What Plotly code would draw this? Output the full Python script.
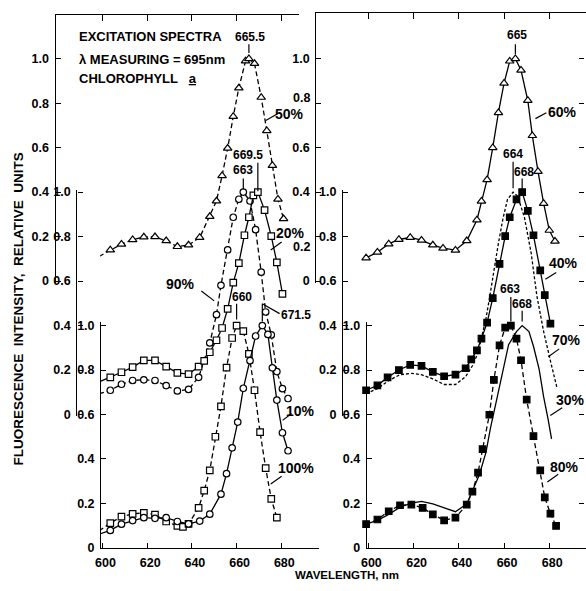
import plotly.graph_objects as go

W, H = 586, 591
FONT = "Liberation Sans"

# ---------------- data: wavelength (nm) and relative fluorescence ----------------
# left panel
wl_50 = [598.5, 603.5, 608.5, 613.5, 618.5, 623.5, 628.5, 633.5, 638.5, 643.5, 648, 651,
         653.5, 656, 658.5, 661, 664, 665.5, 668, 671, 673.5, 676, 678.5, 681]
fl_50 = [0.111, 0.14, 0.166, 0.186, 0.198, 0.199, 0.181, 0.155, 0.162, 0.196, 0.29, 0.36,
         0.474, 0.597, 0.74, 0.868, 0.99, 1.0, 0.978, 0.826, 0.676, 0.52, 0.368, 0.28]

wl_90 = [598.5, 603.5, 608.5, 613.5, 618.5, 623.5, 628.5, 633.5, 638.5, 643, 648, 651, 653,
         656, 658.5, 661, 663, 666, 668.5, 671, 673, 675.5, 678, 680.5, 683]
fl_90 = [0.093, 0.109, 0.136, 0.153, 0.156, 0.153, 0.13, 0.106, 0.113, 0.167, 0.322, 0.449,
         0.581, 0.74, 0.887, 0.968, 1.0, 0.96, 0.831, 0.64, 0.461, 0.358, 0.193, 0.116, 0.072]

wl_20 = [598.5, 603.5, 608.5, 613.5, 618.5, 623.5, 628.5, 633.5, 638.5, 643, 645.5, 648, 651,
         653.5, 656, 658.5, 661, 663.5, 665.5, 667.5, 669.5, 672.5, 675.5, 678, 680.5]
fl_20 = [0.147, 0.167, 0.19, 0.213, 0.243, 0.243, 0.215, 0.187, 0.182, 0.215, 0.241, 0.28,
         0.334, 0.389, 0.475, 0.593, 0.681, 0.806, 0.887, 0.985, 1.0, 0.919, 0.802, 0.684, 0.542]

wl_10 = [598.5, 603.5, 608.5, 613.5, 618.5, 623.5, 628.5, 633.5, 638.5, 643.5, 648, 653, 655.5,
         658, 660.5, 663, 666, 668.5, 671.5, 674, 676, 678, 680.5, 683]
fl_10 = [0.062, 0.079, 0.107, 0.123, 0.136, 0.133, 0.136, 0.119, 0.108, 0.121, 0.152, 0.242,
         0.334, 0.45, 0.566, 0.718, 0.842, 0.953, 1.0, 0.96, 0.81, 0.665, 0.518, 0.437]

wl_100 = [598.5, 603.5, 608.5, 613.5, 618.5, 623.5, 628.5, 633.5, 636, 638.5, 643, 645.5, 648,
          650.5, 653, 655.5, 658, 660, 663, 665.5, 668, 670.5, 673, 675.5, 678]
fl_100 = [0.077, 0.112, 0.141, 0.153, 0.158, 0.15, 0.119, 0.099, 0.095, 0.108, 0.18, 0.258,
          0.349, 0.5, 0.637, 0.811, 0.944, 1.0, 0.975, 0.873, 0.709, 0.521, 0.359, 0.221, 0.136]

# right panel
wl_60 = [599, 604, 609, 613.5, 618.5, 623.5, 628.5, 633, 638.5, 643.5, 648, 650, 652.5, 655,
         657.5, 660, 662.5, 665, 667.5, 670.5, 672.5, 675, 677.5, 680, 682.5]
fl_60 = [0.104, 0.13, 0.167, 0.187, 0.196, 0.184, 0.162, 0.148, 0.139, 0.181, 0.275, 0.359,
         0.456, 0.6, 0.757, 0.89, 0.989, 1.0, 0.948, 0.812, 0.654, 0.493, 0.349, 0.228, 0.179]

wl_40 = [599, 604, 608.5, 613.5, 618.5, 623.5, 628.5, 633.5, 638.5, 643, 645.5, 648, 650,
         652.5, 655, 658, 660.5, 662.5, 665.5, 668, 670.5, 673, 676, 678, 680.5]
fl_40 = [0.109, 0.131, 0.167, 0.2, 0.223, 0.219, 0.192, 0.172, 0.179, 0.208, 0.248, 0.288,
         0.341, 0.413, 0.523, 0.677, 0.802, 0.887, 0.967, 1.0, 0.916, 0.806, 0.648, 0.537, 0.409]

wl_70 = [599, 604, 609, 614, 619, 623.5, 628.5, 633.5, 638.5, 643, 646, 648.5, 650, 652,
         653.5, 655.5, 657.5, 659.5, 661.5, 664, 666, 669, 672, 674.5, 677.5, 680.5, 683.5]
fl_70 = [0.094, 0.116, 0.153, 0.179, 0.185, 0.179, 0.16, 0.135, 0.135, 0.17, 0.219, 0.278,
         0.344, 0.432, 0.52, 0.652, 0.77, 0.88, 0.967, 1.0, 0.982, 0.887, 0.725, 0.534, 0.373,
         0.241, 0.116]

wl_30 = [599, 604, 609, 614, 619, 623.5, 628.5, 633.5, 638.5, 643.5, 646, 649, 652, 654, 657,
         659.5, 662, 665.5, 668, 671, 673, 675.5, 677.5, 679.5, 681]
fl_30 = [0.107, 0.124, 0.151, 0.183, 0.202, 0.209, 0.198, 0.18, 0.163, 0.198, 0.253, 0.327,
         0.43, 0.54, 0.679, 0.804, 0.914, 0.973, 1.0, 0.973, 0.907, 0.804, 0.679, 0.577, 0.49]

wl_80 = [599, 604, 609, 614, 619, 624, 628.5, 633.5, 638.5, 643.5, 646, 648.5, 650.5, 653.5,
         655.5, 658, 660.5, 663, 665.5, 667.5, 670, 673, 676, 678, 680.5, 683]
fl_80 = [0.107, 0.128, 0.165, 0.192, 0.195, 0.18, 0.151, 0.124, 0.136, 0.195, 0.253, 0.339,
         0.444, 0.599, 0.756, 0.911, 0.991, 1.0, 0.941, 0.844, 0.667, 0.503, 0.349, 0.227,
         0.154, 0.099]

X_TICKS = [600, 620, 640, 660, 680]
Y_TICKS = [0, 0.2, 0.4, 0.6, 0.8, 1.0]
Y_TICK_TEXT = ["0", "0.2", "0.4", "0.6", "0.8", "1.0"]
# the top-right scale moves two of its numbers off the tick to clear the curve labels
Y_TICK_TEXT_TR = ["0", "", "0.4", "0.6", "", "1.0"]
EDGE_TICKS = [-1.2, -1.0, -0.8, -0.6, -0.4, -0.2, 0, 0.2, 0.4, 0.6, 0.8, 1.0]

# ---------------- geometry (pixels on a 586 x 591 page) ----------------
UNIT = 227.0                     # px per fluorescence unit
Z_OUT = 281.8                    # zero line of the top stack
Z_MID = Z_OUT + 0.6 * UNIT       # stacks are shifted by 0.6 units
Z_IN = Z_OUT + 1.2 * UNIT
L600, LK = 98.3, 2.255           # left panel: px of 600 nm, px per nm
R600, RK = 366.5, 2.281          # right panel


def nm_l(px):
    return 600 + (px - L600) / LK


def nm_r(px):
    return 600 + (px - R600) / RK


def fx(px):
    return px / W


def fy(py):
    return 1 - py / H


def ydom(top, bot):
    return [fy(bot), fy(top)]


def yrng(top, bot, zero):
    return [(zero - bot) / UNIT, (zero - top) / UNIT]


tickfont = dict(family=FONT, size=12.5, color="black", weight="bold")
base_axis = dict(showgrid=False, zeroline=False, showline=True, linecolor="black",
                 linewidth=1.3, ticks="inside", ticklen=5, tickwidth=1.2,
                 tickcolor="black", tickfont=tickfont, fixedrange=True)


def yax(top, bot, zero, pos, labels=Y_TICK_TEXT):
    return dict(base_axis, domain=ydom(top, bot), range=yrng(top, bot, zero),
                anchor="free", position=fx(pos), tickvals=Y_TICKS, ticktext=labels,
                ticklabelstandoff=3)


fig = go.Figure()

DASH = "5px,3px"
FINE = "3px,2px"


def add(x, y, xa, ya, dash, symbol=None, fill="white", size=7):
    mode = "lines+markers" if symbol else "lines"
    marker = dict(symbol=symbol, size=size, color=fill, line=dict(color="black", width=1.2)) if symbol else None
    fig.add_trace(go.Scatter(x=x, y=y, xaxis=xa, yaxis=ya, mode=mode, cliponaxis=False,
                             line=dict(color="black", width=1.3, dash=dash),
                             marker=marker, showlegend=False, hoverinfo="skip"))


# left panel
add(wl_50, fl_50, "x", "y", DASH, "triangle-up", size=7.5)
add(wl_90, fl_90, "x", "y2", DASH, "circle", size=6.5)
add(wl_20, fl_20, "x", "y2", "solid", "square", size=6.5)
add(wl_100, fl_100, "x", "y3", DASH, "square", size=6.5)
add(wl_10, fl_10, "x", "y3", "solid", "circle", size=6.5)
# right panel
add(wl_60, fl_60, "x2", "y4", "solid", "triangle-up", size=7.5)
add(wl_70, fl_70, "x2", "y5", FINE)
add(wl_40, fl_40, "x2", "y5", "solid", "square", fill="black", size=6.5)
add(wl_30, fl_30, "x2", "y6", "solid")
add(wl_80, fl_80, "x2", "y6", DASH, "square", fill="black", size=6.5)

# empty traces that carry the frame axes (top edges, right-hand tick column)
for xa, ya in (("x3", "y"), ("x4", "y4"), ("x2", "y7")):
    fig.add_trace(go.Scatter(x=[None], y=[None], xaxis=xa, yaxis=ya, mode="lines",
                             showlegend=False, hoverinfo="skip"))

xbase = dict(base_axis, tickvals=X_TICKS, ticktext=[str(t) for t in X_TICKS],
             ticklabelshift=3, ticklabelstandoff=3)
fig.update_layout(
    width=W, height=H, margin=dict(l=0, r=0, t=0, b=0),
    paper_bgcolor="white", plot_bgcolor="rgba(0,0,0,0)", showlegend=False,
    xaxis=dict(xbase, domain=[fx(96), fx(317)], range=[nm_l(96), nm_l(317)], anchor="y3"),
    xaxis2=dict(xbase, domain=[fx(364), 1.0], range=[nm_r(364), nm_r(W)], anchor="y6"),
    xaxis3=dict(base_axis, domain=[fx(50), fx(297)], range=[nm_l(50), nm_l(297)],
                anchor="y", side="top", tickvals=X_TICKS, showticklabels=False, ticklen=6),
    xaxis4=dict(base_axis, domain=[fx(313), 1.0], range=[nm_r(313), nm_r(W)],
                anchor="y4", side="top", tickvals=X_TICKS, showticklabels=False, ticklen=6),
    yaxis=yax(10, 284, Z_OUT, 50),
    yaxis2=yax(189, 420, Z_MID, 72),
    yaxis3=yax(324, Z_IN, Z_IN, 96),
    yaxis4=yax(8, 284, Z_OUT, 313, Y_TICK_TEXT_TR),
    yaxis5=yax(189, 420, Z_MID, 340),
    yaxis6=yax(324, Z_IN, Z_IN, 364),
    yaxis7=dict(base_axis, domain=ydom(8, Z_IN), range=yrng(8, Z_IN, Z_OUT), anchor="free",
                position=fx(584), side="right", showline=False, tickvals=EDGE_TICKS,
                showticklabels=False),
)

shapes = []
annos = []
LINE = dict(color="black", width=1.2)


def seg(x0, y0, x1, y1):
    shapes.append(dict(type="line", xref="paper", yref="paper", x0=fx(x0), y0=fy(y0),
                       x1=fx(x1), y1=fy(y1), line=LINE))


def text(x, y, s, size=13, xanchor="center"):
    annos.append(dict(x=fx(x), y=fy(y), xref="paper", yref="paper", text=s, showarrow=False,
                      xanchor=xanchor, yanchor="middle",
                      font=dict(family=FONT, size=size, color="black", weight="bold")))


def peak(xa, nm, label, ty, top, bot, dx=0.0):
    # vertical marker above a maximum, placed on the panel's wavelength axis
    shapes.append(dict(type="line", xref=xa, yref="paper", x0=nm, x1=nm, y0=fy(bot), y1=fy(top),
                       line=LINE))
    annos.append(dict(x=nm + dx, y=fy(ty), xref=xa, yref="paper", text=label, showarrow=False,
                      xanchor="center", yanchor="middle",
                      font=dict(family=FONT, size=12, color="black", weight="bold")))


# peak positions
peak("x", 665.5, "665.5", 33, 40, 49, 0.5)
peak("x", 669.5, "669.5", 153, 161, 190, -4.5)
peak("x", 663, "663", 168, 177, 188, 0)
peak("x", 660, "660", 298, 305, 321, 2.5)
peak("x", 671.5, "", 305, 305, 323)
peak("x2", 665, "665", 31, 40, 50, 0.5)
peak("x2", 664, "664", 152, 160, 187, 0)
peak("x2", 668, "668", 170, 177, 188, 1)
peak("x2", 663, "663", 290, 298, 323, -0.5)
peak("x2", 668, "668", 305.7, 312, 323, 0)

# 671.5 label hangs off its marker with a slanted lead
x6715 = L600 + (671.5 - 600) * LK
seg(x6715, 305, 277, 315)
text(293, 316, "671.5", size=12)

# displaced numbers of the top-right scale
text(310, 95, "0.8", size=12.5, xanchor="right")
text(310, 247, "0.2", size=12.5, xanchor="right")

# curve labels with leader lines
for (tx, ty, s, a, b) in [
    (287, 111, "50%", (263, 118), (275, 111)),
    (288, 233, "20%", (268, 250), (279, 242)),
    (177, 285, "90%", (198, 292), (211, 302)),
    (298, 414, "10%", (280, 424), (289, 417)),
    (294, 473, "100%", (268, 489), (279, 481)),
    (562, 109, "60%", (535, 116), (546, 110)),
    (563, 263, "40%", (545, 280), (556, 273)),
    (566, 342, "70%", (548, 359), (559, 351)),
    (570, 403, "30%", (550, 419), (562, 411)),
    (564, 472, "80%", (547, 487), (558, 479)),
]:
    seg(a[0], a[1], b[0], b[1])
    text(tx, ty, s, size=14)

# heading block
text(72.7, 32, "EXCITATION SPECTRA", size=13, xanchor="left")
text(72.7, 56, "\u03bb MEASURING = 695nm", size=13, xanchor="left")
text(72.7, 75, "CHLOROPHYLL\u00a0\u00a0\u00a0<u>a</u>", size=13, xanchor="left")

# axis titles
annos.append(dict(x=fx(14), y=fy(310), xref="paper", yref="paper",
                  text="FLUORESCENCE  INTENSITY,  RELATIVE  UNITS", textangle=-90,
                  showarrow=False, xanchor="center", yanchor="middle",
                  font=dict(family=FONT, size=13.5, color="black", weight="bold")))
text(345, 582, "WAVELENGTH, nm", size=11.5)

fig.update_layout(shapes=shapes, annotations=annos)
fig.write_html("out.html")
